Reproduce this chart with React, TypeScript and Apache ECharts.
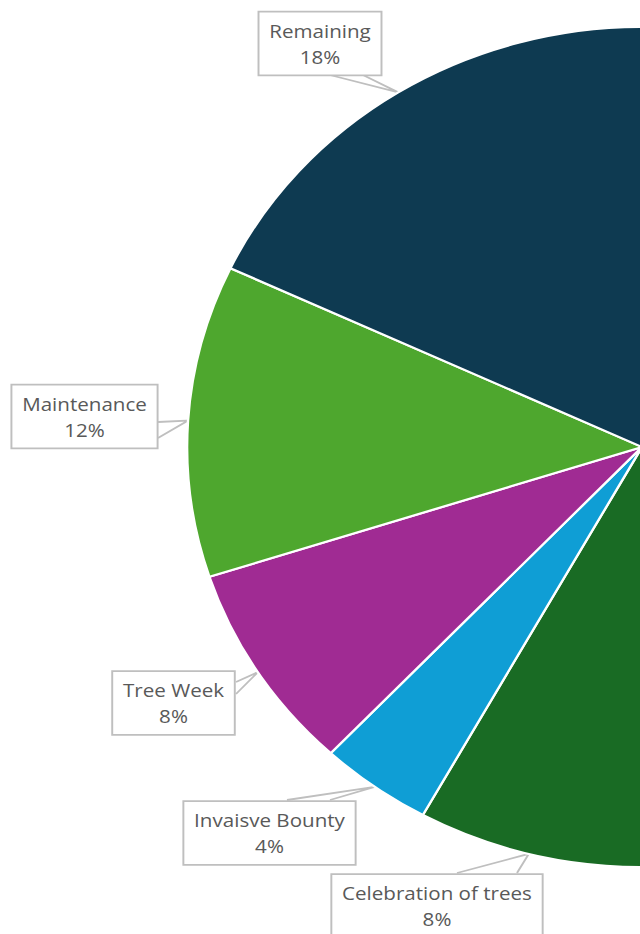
import React, { useEffect, useRef } from "react";
import * as echarts from "echarts";

// Data (percent shares). The first two slices lie off the visible area.
const categories = [
  "Planting",
  "Education",
  "Celebration of trees",
  "Invaisve Bounty",
  "Tree Week",
  "Maintenance",
  "Remaining",
];
const values = [25, 25, 8, 4, 8, 12, 18];
const labelled = [false, false, true, true, true, true, true];
const colors = ["#156082", "#E97132", "#196B24", "#0F9ED5", "#A02B93", "#4EA72E", "#0E3A51"];

// Layout of the callout boxes in page pixels: [left, top, right, bottom], tail base points A, B
const SX = 1.083;
const CALLOUTS: Record<number, { box: number[]; a: number[]; b: number[] }> = {
  2: { box: [328, 873, 546, 939], a: [457, 873], b: [517, 873] },
  3: { box: [182, 800, 357, 866], a: [287, 800], b: [330, 800] },
  4: { box: [111, 670, 236, 736], a: [236, 682], b: [236, 694] },
  5: { box: [11, 383, 158, 450], a: [158, 422], b: [158, 438] },
  6: { box: [258, 12, 382, 75], a: [330, 75], b: [363, 75] },
};

export default function App() {
  const ref = useRef<HTMLDivElement>(null);
  useEffect(() => {
    if (!ref.current) return;
    const chart = echarts.init(ref.current, undefined, { renderer: "svg" });
    const total = values.reduce((s, v) => s + v, 0);
    const data = categories.map((name, i) => ({
      name,
      value: values[i],
      itemStyle: { color: colors[i] },
      label: { show: labelled[i] },
      labelLine: { show: labelled[i] },
    }));
    chart.setOption({
      animation: false,
      backgroundColor: "#ffffff",
      series: [
        {
          type: "pie",
          center: [642 / SX, 447],
          radius: [0, 420],
          startAngle: 90,
          clockwise: true,
          avoidLabelOverlap: false,
          data,
          itemStyle: { borderColor: "#ffffff", borderWidth: 2.2 },
          label: {
            position: "outside",
            formatter: (p: any) => `${p.name}\n${Math.round((p.value / total) * 100)}%`,
            color: "#595959",
            fontFamily: "Open Sans",
            fontSize: 19,
            lineHeight: 26,
            align: "center",
            backgroundColor: "#ffffff",
            borderColor: "#bfbfbf",
            borderWidth: 1.8,
            padding: [5, 9, 5, 9],
          },
          labelLine: {
            show: true,
            lineStyle: { color: "#bfbfbf", width: 1.8 },
          },
          labelLayout: (params: any) => {
            const c = CALLOUTS[params.dataIndex];
            if (!c) return {};
            const cx = (c.box[0] + c.box[2]) / 2 / SX;
            const cy = (c.box[1] + c.box[3]) / 2;
            const tip = params.labelLinePoints ? params.labelLinePoints[0] : [c.a[0] / SX, c.a[1]];
            return {
              x: cx,
              y: cy,
              align: "center",
              verticalAlign: "middle",
              labelLinePoints: [
                [c.a[0] / SX, c.a[1]],
                tip,
                [c.b[0] / SX, c.b[1]],
              ],
            };
          },
        },
      ],
    });
    return () => chart.dispose();
  }, []);
  return (
    <div
      style={{
        position: "fixed",
        left: 0,
        top: 0,
        width: 640,
        height: 934,
        overflow: "hidden",
        background: "#ffffff",
      }}
    >
      <div
        ref={ref}
        style={{
          width: Math.round(660 / SX),
          height: 934,
          transform: `scaleX(${SX})`,
          transformOrigin: "0 0",
        }}
      />
    </div>
  );
}
